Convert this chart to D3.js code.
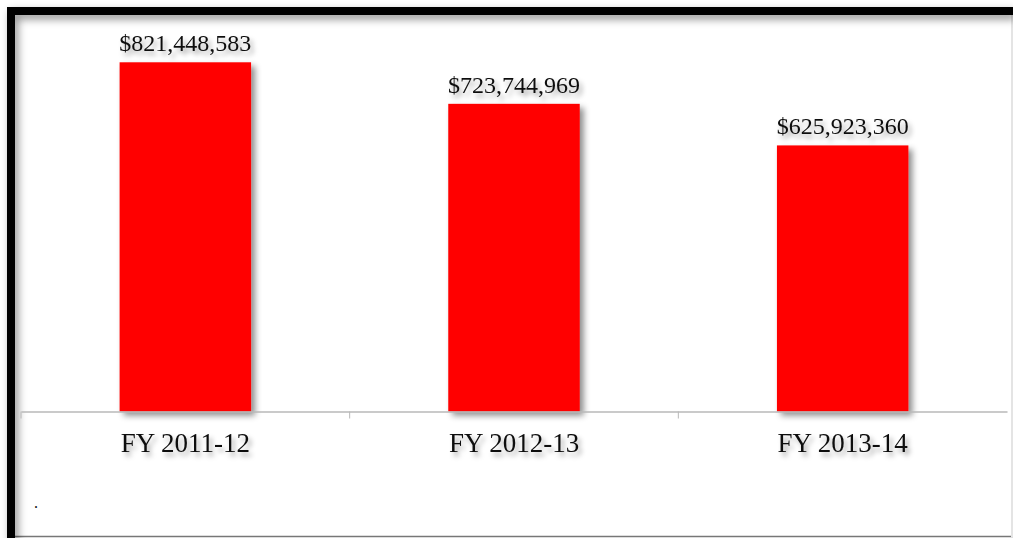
<!DOCTYPE html>
<html>
<head>
<meta charset="utf-8">
<script src="https://cdn.jsdelivr.net/npm/d3@7"></script>
<style>
  html, body { margin: 0; padding: 0; background: #fff; }
  svg { display: block; }
  text { font-family: "Liberation Serif", "Times New Roman", serif; fill: #111; }
</style>
</head>
<body>
<svg id="chart" width="1013" height="538"></svg>
<script>
const categories = ["FY 2011-12", "FY 2012-13", "FY 2013-14"];
const values = [821448583, 723744969, 625923360];
const valueLabels = ["$821,448,583", "$723,744,969", "$625,923,360"];

const W = 1013, H = 538;
const svg = d3.select("#chart");
const defs = svg.append("defs");

const sh = defs.append("filter").attr("id", "shadow")
  .attr("x", "-20%").attr("y", "-20%").attr("width", "150%").attr("height", "150%");
sh.append("feDropShadow").attr("dx", 4).attr("dy", 4).attr("stdDeviation", 3)
  .attr("flood-color", "#000").attr("flood-opacity", 0.45);

const tsh = defs.append("filter").attr("id", "tshadow")
  .attr("x", "-20%").attr("y", "-40%").attr("width", "150%").attr("height", "200%");
tsh.append("feDropShadow").attr("dx", 3).attr("dy", 4).attr("stdDeviation", 2.5)
  .attr("flood-color", "#000").attr("flood-opacity", 0.35);

const fsh = defs.append("filter").attr("id", "fshadow")
  .attr("x", "-5%").attr("y", "-5%").attr("width", "120%").attr("height", "120%");
fsh.append("feDropShadow").attr("dx", 3).attr("dy", 4).attr("stdDeviation", 4)
  .attr("flood-color", "#000").attr("flood-opacity", 0.45);

// Frame
svg.append("rect").attr("x", 0).attr("y", 0).attr("width", W).attr("height", H).attr("fill", "#fff");
svg.append("line").attr("x1", 15).attr("x2", W).attr("y1", 536.5).attr("y2", 536.5)
  .attr("stroke", "#777").attr("stroke-width", 1.5);
svg.append("rect").attr("x", 1011).attr("y", 15).attr("width", 2).attr("height", 522)
  .attr("fill", "#e4e4e4");
const frame = svg.append("g").attr("filter", "url(#fshadow)");
frame.append("rect").attr("x", 7).attr("y", 7).attr("width", W - 7).attr("height", 8).attr("fill", "#000");
frame.append("rect").attr("x", 7).attr("y", 7).attr("width", 8).attr("height", H).attr("fill", "#000");

// Scales
const x = d3.scaleBand().domain(categories).range([21, 1007]).padding(0);
const y = d3.scaleLinear().domain([0, 900000000]).range([411.5, 28.9]);
const barW = x.bandwidth() * 0.4;

// Bars
svg.append("g").attr("filter", "url(#shadow)")
  .selectAll("rect").data(values).join("rect")
  .attr("x", (d, i) => x(categories[i]) + (x.bandwidth() - barW) / 2)
  .attr("y", d => y(d))
  .attr("width", barW)
  .attr("height", d => y(0) - y(d))
  .attr("fill", "#ff0000");

// Axis
const axis = svg.append("g").attr("transform", `translate(0,${y(0)})`)
  .call(d3.axisBottom(x).tickSize(0).tickPadding(40));
axis.select(".domain").attr("stroke", "#b8b8b8").attr("stroke-width", 1.5);
axis.selectAll(".tick text")
  .attr("font-family", "'Liberation Serif', 'Times New Roman', serif")
  .attr("font-size", 27).attr("fill", "#111")
  .attr("dy", 0).attr("y", 40)
  .attr("filter", "url(#tshadow)");
axis.selectAll(".tickmark").data(categories).join("line")
  .attr("class", "tickmark")
  .attr("x1", d => x(d)).attr("x2", d => x(d))
  .attr("y1", 0).attr("y2", 7)
  .attr("stroke", "#b8b8b8").attr("stroke-width", 1);

// Value labels
svg.append("g").selectAll("text").data(values).join("text")
  .attr("x", (d, i) => x(categories[i]) + x.bandwidth() / 2)
  .attr("y", d => y(d) - 11)
  .attr("text-anchor", "middle")
  .attr("font-size", 24)
  .attr("filter", "url(#tshadow)")
  .text((d, i) => valueLabels[i]);

// Stray dot
svg.append("text").attr("x", 34).attr("y", 508).attr("font-size", 16).attr("fill", "#333").text(".");
</script>
</body>
</html>
